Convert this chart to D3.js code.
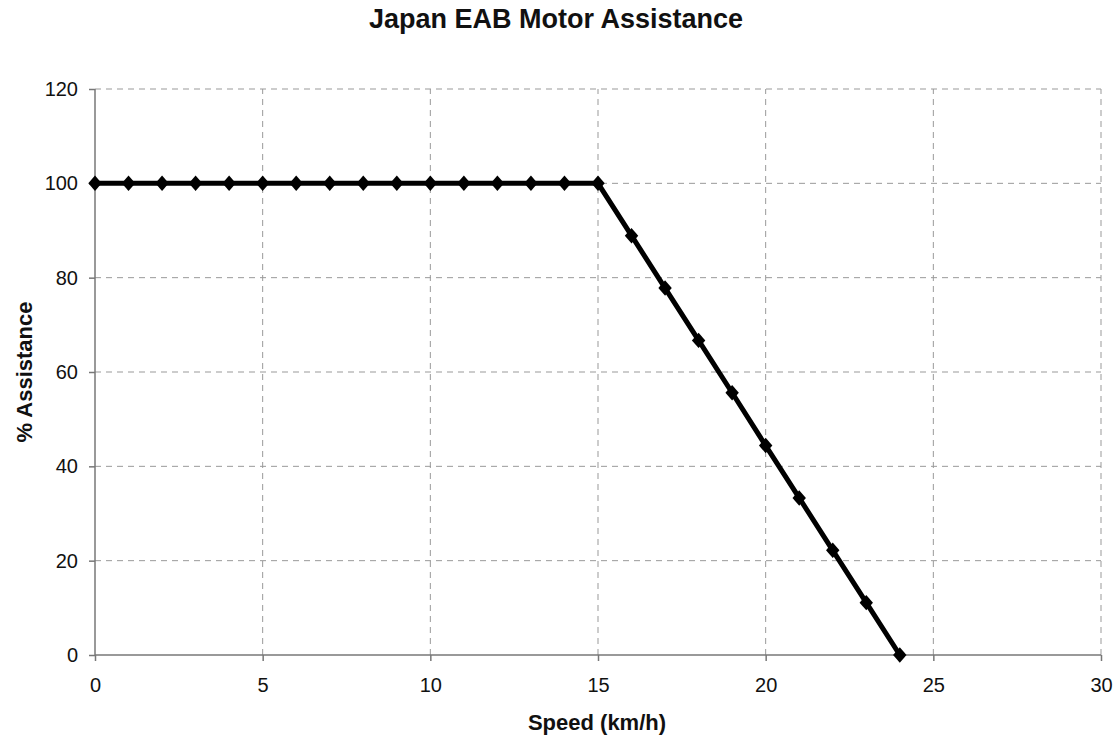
<!DOCTYPE html>
<html>
<head>
<meta charset="utf-8">
<script src="https://cdn.jsdelivr.net/npm/d3@7"></script>
<style>
body { margin: 0; background: #fff; }
svg text { font-family: "Liberation Sans", Arial, sans-serif; fill: #111; }
.grid line { stroke: #999; stroke-dasharray: 6,5; stroke-width: 1; }
.axis path, .axis line { stroke: #777; stroke-width: 1.5; }
.axis text { font-size: 20px; }
</style>
</head>
<body>
<svg width="1118" height="741"></svg>
<script>
// data
const speed = [0,1,2,3,4,5,6,7,8,9,10,11,12,13,14,15,16,17,18,19,20,21,22,23,24]
const assist = [100,100,100,100,100,100,100,100,100,100,100,100,100,100,100,100,88.9,77.8,66.7,55.6,44.4,33.3,22.2,11.1,0]
const xTicks = [0,5,10,15,20,25,30]
const yTicks = [0,20,40,60,80,100,120]

const data = speed.map((s,i)=>{ return {x:s, y:assist[i]} })

const svg = d3.select("svg")

//scales
const x = d3.scaleLinear().domain([0,30]).range([95,1101])
const y = d3.scaleLinear().domain([0,120]).range([655,89])

//gridlines
svg.append("g").attr("class","grid")
	.selectAll("line.h")
	.data(yTicks.filter(d=>d>0))
	.enter().append("line")
	.attr("x1", x(0)).attr("x2", x(30))
	.attr("y1", d=>y(d)).attr("y2", d=>y(d))

svg.append("g").attr("class","grid")
	.selectAll("line.v")
	.data(xTicks.filter(d=>d>0))
	.enter().append("line")
	.attr("x1", d=>x(d)).attr("x2", d=>x(d))
	.attr("y1", y(0)).attr("y2", y(120))

//axes
svg.append("g").attr("class","axis")
	.attr("transform", `translate(0,${y(0)})`)
	.call(d3.axisBottom(x).tickValues(xTicks).tickSize(6).tickPadding(17).tickSizeOuter(0))
	.select(".domain").attr("d", `M${x(0)},0H${x(30)}`)

svg.append("g").attr("class","axis")
	.attr("transform", `translate(${x(0)},0)`)
	.call(d3.axisLeft(y).tickValues(yTicks).tickSize(6).tickPadding(11).tickSizeOuter(0))
	.select(".domain").attr("d", `M0,${y(0)}V${y(120)}`)

//line
const line = d3.line().x(d=>x(d.x)).y(d=>y(d.y))
svg.append("path")
	.datum(data)
	.attr("d", line)
	.attr("fill","none")
	.attr("stroke","#000")
	.attr("stroke-width",5)

//diamond markers (a bit taller than wide)
svg.selectAll("path.pt")
	.data(data)
	.enter().append("path")
	.attr("class","pt")
	.attr("d", d3.symbol().type(d3.symbolDiamond2).size(115))
	.attr("transform", d=>`translate(${x(d.x)},${y(d.y)}) scale(1,1.15)`)
	.attr("fill","#000")

//titles
svg.append("text")
	.attr("x", 556).attr("y", 28)
	.attr("text-anchor","middle")
	.style("font-size","27px").style("font-weight","bold")
	.text("Japan EAB Motor Assistance")

svg.append("text")
	.attr("x", 597).attr("y", 730)
	.attr("text-anchor","middle")
	.style("font-size","22px").style("font-weight","bold")
	.text("Speed (km/h)")

svg.append("text")
	.attr("transform", `translate(32,${(y(0)+y(120))/2}) rotate(-90)`)
	.attr("text-anchor","middle")
	.style("font-size","22px").style("font-weight","bold")
	.text("% Assistance")
</script>
</body>
</html>
